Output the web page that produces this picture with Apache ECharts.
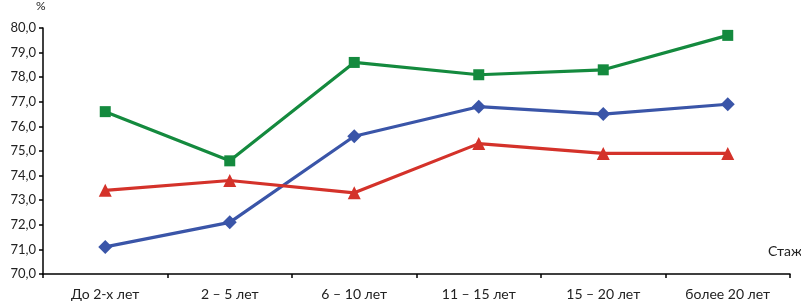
<!DOCTYPE html>
<html>
<head>
<meta charset="utf-8">
<script src="https://cdn.jsdelivr.net/npm/echarts@6/dist/echarts.min.js"></script>
<style>
  html, body { margin: 0; padding: 0; background: #fff; }
  #chart { width: 801px; height: 303px; }
</style>
</head>
<body>
<div id="chart"></div>
<script>
const categories = ['До 2-х лет', '2 – 5 лет', '6 – 10 лет', '11 – 15 лет', '15 – 20 лет', 'более 20 лет'];
const greenValues = [76.6, 74.6, 78.6, 78.1, 78.3, 79.7];
const blueValues = [71.1, 72.1, 75.6, 76.8, 76.5, 76.9];
const redValues = [73.4, 73.8, 73.3, 75.3, 74.9, 74.9];

const chart = echarts.init(document.getElementById('chart'), null, { renderer: 'canvas' });

const font = 'Lato, "Open Sans", sans-serif';

function lineSeries(data, color, symbol, size) {
  return {
    type: 'line',
    data: data,
    symbol: symbol,
    symbolSize: size,
    lineStyle: { color: color, width: 3.2 },
    itemStyle: { color: color },
    animation: false
  };
}

const option = {
  grid: { left: 43, right: 11, top: 28, bottom: 29, containLabel: false },
  xAxis: {
    type: 'category',
    data: categories,
    boundaryGap: true,
    axisLine: { lineStyle: { color: '#000', width: 1.5 } },
    axisTick: { show: true, length: 4, alignWithLabel: false, lineStyle: { color: '#000', width: 1.5 } },
    axisLabel: { color: '#222', fontFamily: font, fontSize: 14, margin: 13 },
    splitLine: { show: false }
  },
  yAxis: {
    type: 'value',
    min: 70,
    max: 80,
    interval: 1,
    axisLine: { show: true, lineStyle: { color: '#000', width: 1.5 } },
    axisTick: { show: true, length: 4, lineStyle: { color: '#000', width: 1.5 } },
    axisLabel: {
      color: '#222', fontFamily: font, fontSize: 13, margin: 7,
      formatter: function (v) { return v.toFixed(1).replace('.', ','); }
    },
    splitLine: { show: false }
  },
  graphic: [
    { type: 'text', left: 36, top: 0, style: { text: '%', fill: '#222', font: '12px ' + font } },
    { type: 'text', left: 768, top: 244, style: { text: 'Стаж', fill: '#222', font: '14px ' + font } }
  ],
  series: [
    lineSeries(greenValues, '#148a3e', 'rect', 11),
    lineSeries(blueValues, '#3a55a8', 'diamond', 14),
    lineSeries(redValues, '#d4322a', 'triangle', 13)
  ]
};

chart.setOption(option);
</script>
</body>
</html>
